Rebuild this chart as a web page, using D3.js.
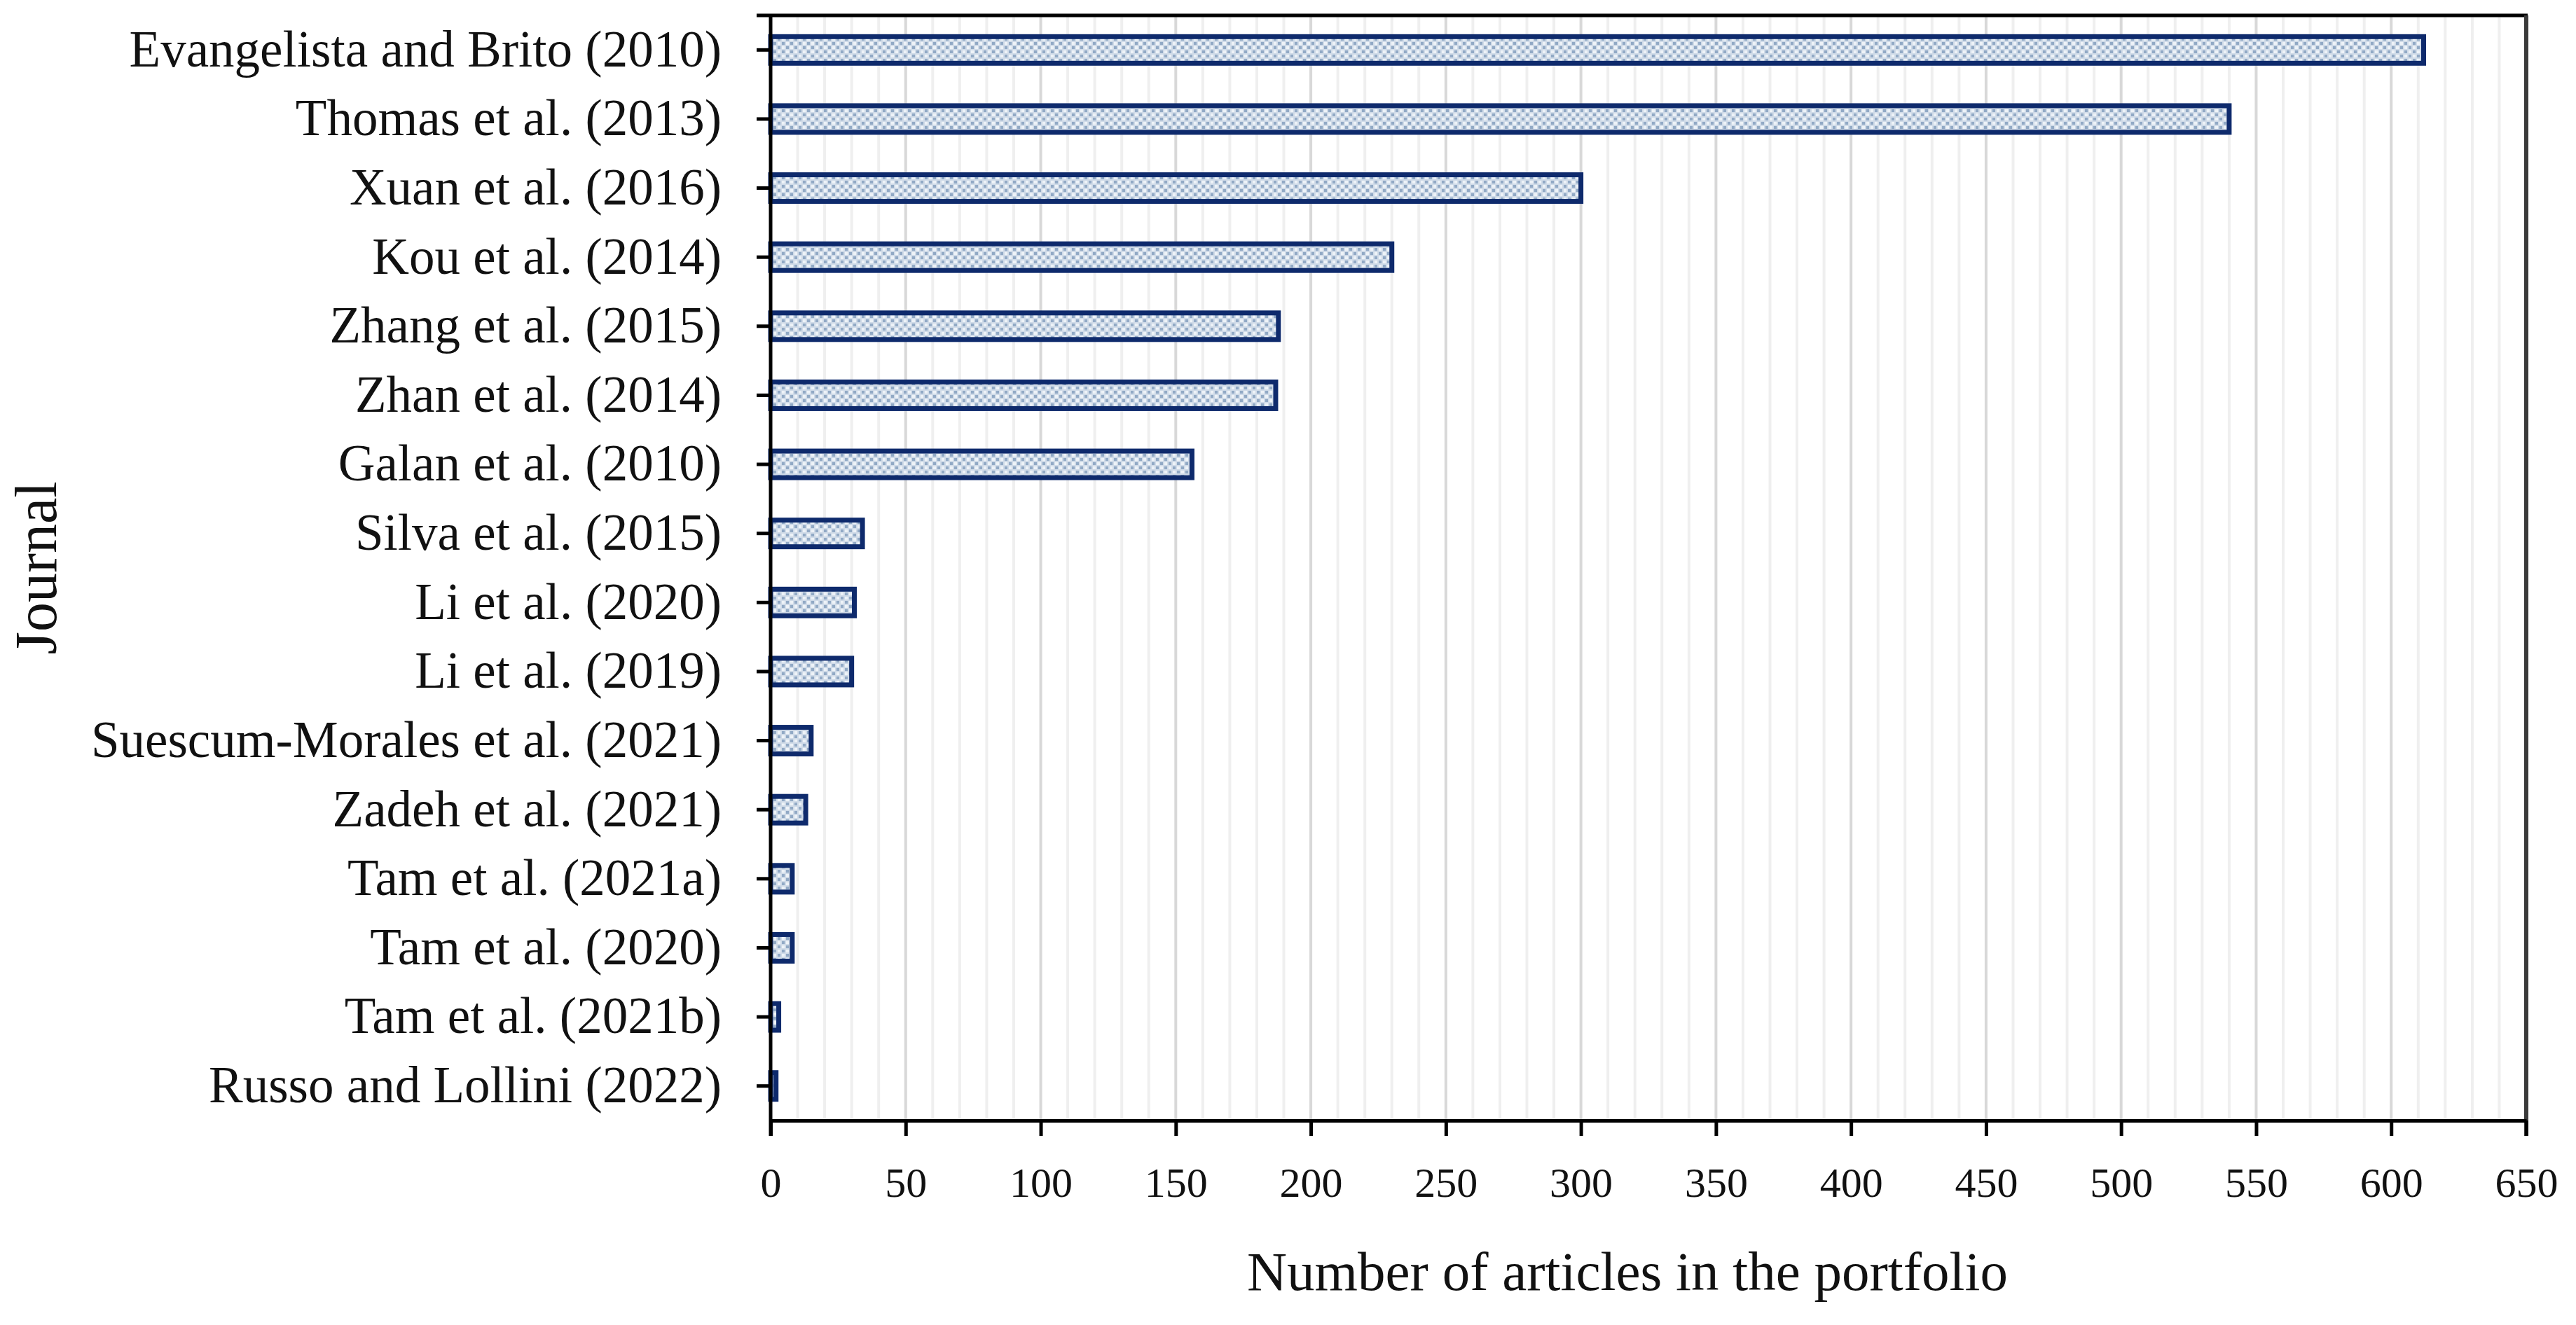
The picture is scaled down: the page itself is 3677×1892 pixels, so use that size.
<!DOCTYPE html>
<html>
<head>
<meta charset="utf-8">
<script src="https://cdn.jsdelivr.net/npm/d3@7"></script>
<style>
  html, body { margin: 0; padding: 0; background: #fff; }
  svg { display: block; }
  text { font-family: "Liberation Serif", "DejaVu Serif", serif; fill: #111; }
</style>
</head>
<body>
<script>
const categories = [
  "Evangelista and Brito (2010)",
  "Thomas et al. (2013)",
  "Xuan et al. (2016)",
  "Kou et al. (2014)",
  "Zhang et al. (2015)",
  "Zhan et al. (2014)",
  "Galan et al. (2010)",
  "Silva et al. (2015)",
  "Li et al. (2020)",
  "Li et al. (2019)",
  "Suescum-Morales et al. (2021)",
  "Zadeh et al. (2021)",
  "Tam et al. (2021a)",
  "Tam et al. (2020)",
  "Tam et al. (2021b)",
  "Russo and Lollini (2022)"
];
const values = [612, 540, 300, 230, 188, 187, 156, 34, 31, 30, 15, 13, 8, 8, 3, 2];
const xTicks = [0, 50, 100, 150, 200, 250, 300, 350, 400, 450, 500, 550, 600, 650];
const minorTicks = d3.range(0, 651, 10);
const xTitle = "Number of articles in the portfolio";
const yTitle = "Journal";

const W = 3677, H = 1892;
const L = 1100, R = 3606, T = 22, B = 1600;

const svg = d3.select("body").append("svg").attr("width", W).attr("height", H);

const defs = svg.append("defs");
const pat = defs.append("pattern").attr("id", "dots").attr("patternUnits", "userSpaceOnUse")
  .attr("width", 12).attr("height", 12);
pat.append("rect").attr("width", 12).attr("height", 12).attr("fill", "#d0dbe8");
pat.append("rect").attr("x", 0).attr("y", 0).attr("width", 4).attr("height", 4).attr("fill", "#91a9c5");
pat.append("rect").attr("x", 6).attr("y", 6).attr("width", 4).attr("height", 4).attr("fill", "#91a9c5");
pat.append("rect").attr("x", 6).attr("y", 0).attr("width", 4).attr("height", 4).attr("fill", "#eef3f8");
pat.append("rect").attr("x", 0).attr("y", 6).attr("width", 4).attr("height", 4).attr("fill", "#eef3f8");

const x = d3.scaleLinear().domain([0, 650]).range([L, R]);
const y = d3.scaleBand().domain(categories).range([T, B]).paddingInner(0).paddingOuter(0);

// minor gridlines
svg.append("g").selectAll("line").data(minorTicks.filter(d => d % 50 !== 0))
  .join("line")
  .attr("x1", d => x(d)).attr("x2", d => x(d))
  .attr("y1", T).attr("y2", B)
  .attr("stroke", "#efefef").attr("stroke-width", 4);
// major gridlines
svg.append("g").selectAll("line").data(xTicks.filter(d => d > 0 && d < 650))
  .join("line")
  .attr("x1", d => x(d)).attr("x2", d => x(d))
  .attr("y1", T).attr("y2", B)
  .attr("stroke", "#d8d8d8").attr("stroke-width", 4);

// bars
const barH = 38;
svg.append("g").selectAll("rect").data(categories)
  .join("rect")
  .attr("x", x(0))
  .attr("y", d => y(d) + y.bandwidth() / 2 - barH / 2)
  .attr("width", (d, i) => x(values[i]) - x(0))
  .attr("height", barH)
  .attr("fill", "url(#dots)")
  .attr("stroke", "#0e2a6c")
  .attr("stroke-width", 7);

// frame: top and right
svg.append("line").attr("x1", L - 20).attr("x2", R + 2).attr("y1", T).attr("y2", T)
  .attr("stroke", "#000").attr("stroke-width", 5);
svg.append("line").attr("x1", R).attr("x2", R).attr("y1", T).attr("y2", B + 22)
  .attr("stroke", "#3a3a3a").attr("stroke-width", 6);

// x axis
const xAxis = d3.axisBottom(x).tickValues(xTicks).tickSize(22).tickPadding(44).tickSizeOuter(0);
const gx = svg.append("g").attr("transform", `translate(0,${B})`).call(xAxis);
gx.select(".domain").attr("stroke", "#000").attr("stroke-width", 5);
gx.selectAll(".tick line").attr("stroke", "#000").attr("stroke-width", 5);
gx.selectAll(".tick text").attr("font-size", 60).attr("fill", "#111")
  .attr("font-family", "Liberation Serif, serif");

// y axis
const yAxis = d3.axisLeft(y).tickSize(20).tickPadding(50).tickSizeOuter(0);
const gy = svg.append("g").attr("transform", `translate(${L},0)`).call(yAxis);
gy.select(".domain").attr("stroke", "#000").attr("stroke-width", 5)
  .attr("d", `M0,${T}V${B + 22}`);
gy.selectAll(".tick line").attr("stroke", "#000").attr("stroke-width", 5);
gy.selectAll(".tick text").attr("font-size", 73).attr("fill", "#111")
  .attr("font-family", "Liberation Serif, serif");

// titles
svg.append("text").attr("x", (L + R) / 2 - 30).attr("y", 1842)
  .attr("text-anchor", "middle").attr("font-size", 79).text(xTitle);
svg.append("text").attr("transform", `translate(80,${(T + B) / 2}) rotate(-90)`)
  .attr("text-anchor", "middle").attr("font-size", 84).text(yTitle);
</script>
</body>
</html>
